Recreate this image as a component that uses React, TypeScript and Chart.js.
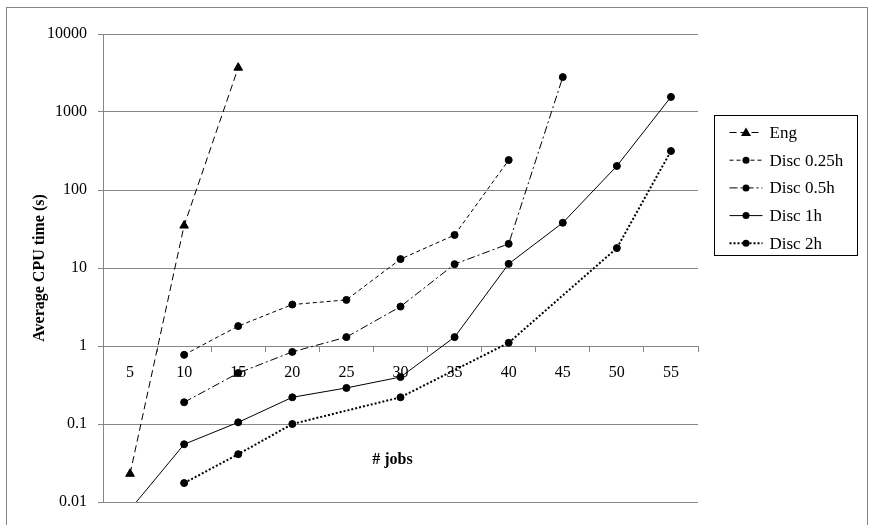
import React, { useEffect, useRef } from "react";
import { Chart, registerables } from "chart.js";

Chart.register(...registerables);

const categories = ["5", "10", "15", "20", "25", "30", "35", "40", "45", "50", "55"];
const yTickValues = [0.01, 0.1, 1, 10, 100, 1000, 10000];

const engValues = [0.023, 35, 3700, null, null, null, null, null, null, null, null];
const disc025Values = [null, 0.77, 1.8, 3.4, 3.9, 13, 26.5, 242, null, null, null];
const disc05Values = [null, 0.19, 0.45, 0.84, 1.3, 3.2, 11.2, 20.4, 2800, null, null];
const disc1Values = [0.008, 0.055, 0.105, 0.22, 0.29, 0.4, 1.3, 11.3, 38, 203, 1560];
const disc2Values = [null, 0.0175, 0.041, 0.1, null, 0.22, null, 1.1, null, 18, 316];

const seriesLabels = ["Eng", "Disc 0.25h", "Disc 0.5h", "Disc 1h", "Disc 2h"];

const SERIF = "'Liberation Serif', 'Times New Roman', serif";
const GRID = "#868686";

const framePlugin = {
  id: "frame",
  beforeDraw(chart: any) {
    const { ctx } = chart;
    ctx.save();
    ctx.fillStyle = "#ffffff";
    ctx.fillRect(0, 0, chart.width, chart.height);
    ctx.strokeStyle = GRID;
    ctx.lineWidth = 1;
    ctx.strokeRect(6.5, 7.5, chart.width - 9, chart.height + 10);
    ctx.restore();
  },
};

const xTitlePlugin = {
  id: "xTitle",
  afterDraw(chart: any) {
    const { ctx, chartArea } = chart;
    ctx.save();
    ctx.font = `bold 16px ${SERIF}`;
    ctx.fillStyle = "#000";
    ctx.textAlign = "center";
    ctx.textBaseline = "middle";
    ctx.fillText("# jobs", (chartArea.left + chartArea.right) / 2 - 8, chartArea.bottom - 42);
    ctx.restore();
  },
};

const legendPlugin = {
  id: "boxLegend",
  afterDraw(chart: any) {
    const { ctx, chartArea } = chart;
    const left = chartArea.right + 16.5;
    const top = 115.5;
    const w = 143;
    const h = 140;
    const rowH = 27.7;
    ctx.save();
    ctx.strokeStyle = "#000";
    ctx.lineWidth = 1;
    ctx.strokeRect(left, top, w, h);
    chart.data.datasets.forEach((ds: any, i: number) => {
      const y = top + 17 + i * rowH;
      const x0 = left + 15;
      const x1 = left + 48;
      ctx.save();
      ctx.strokeStyle = ds.borderColor;
      ctx.lineWidth = ds.borderWidth;
      ctx.setLineDash(ds.borderDash || []);
      ctx.beginPath();
      ctx.moveTo(x0, y);
      ctx.lineTo(x1, y);
      ctx.stroke();
      ctx.restore();
      ctx.fillStyle = "#000";
      const mx = (x0 + x1) / 2;
      if (ds.pointStyle === "triangle") {
        const r = 5;
        ctx.beginPath();
        ctx.moveTo(mx, y - r);
        ctx.lineTo(mx + r, y + r * 0.7);
        ctx.lineTo(mx - r, y + r * 0.7);
        ctx.closePath();
        ctx.fill();
      } else {
        ctx.beginPath();
        ctx.arc(mx, y, 3.5, 0, Math.PI * 2);
        ctx.fill();
      }
      ctx.font = `17px ${SERIF}`;
      ctx.textAlign = "left";
      ctx.textBaseline = "middle";
      ctx.fillText(ds.label, left + 55, y + 1);
    });
    ctx.restore();
  },
};

function makeDataset(label: string, data: (number | null)[], dash: number[], width: number, pointStyle: string, radius: number) {
  return {
    label,
    data,
    borderColor: "#000",
    backgroundColor: "#000",
    pointBackgroundColor: "#000",
    pointBorderColor: "#000",
    pointBorderWidth: 1,
    borderWidth: width,
    borderDash: dash,
    pointStyle,
    pointRadius: radius,
    pointHoverRadius: radius,
    spanGaps: true,
    tension: 0,
    fill: false,
  };
}

export default function App() {
  const canvasRef = useRef<HTMLCanvasElement | null>(null);

  useEffect(() => {
    if (!canvasRef.current) return;
    const chart = new Chart(canvasRef.current, {
      type: "line",
      data: {
        labels: categories,
        datasets: [
          makeDataset(seriesLabels[0], engValues, [7, 4], 1, "triangle", 5),
          makeDataset(seriesLabels[1], disc025Values, [4, 3], 1, "circle", 3.5),
          makeDataset(seriesLabels[2], disc05Values, [8, 3, 2, 3], 1, "circle", 3.5),
          makeDataset(seriesLabels[3], disc1Values, [], 1, "circle", 3.5),
          makeDataset(seriesLabels[4], disc2Values, [2, 2], 2, "circle", 3.5),
        ] as any,
      },
      plugins: [framePlugin, xTitlePlugin, legendPlugin],
      options: {
        animation: false,
        responsive: true,
        maintainAspectRatio: false,
        layout: { padding: { left: 8, top: 34, right: 172, bottom: 23 } },
        plugins: {
          legend: { display: false },
          tooltip: { enabled: false },
          title: { display: false },
        },
        scales: {
          x: {
            type: "category",
            offset: true,
            position: { y: 1 } as any,
            grid: {
              display: true,
              drawOnChartArea: false,
              drawTicks: true,
              tickLength: 5,
              offset: true,
              color: GRID,
            },
            border: { display: true, color: GRID },
            ticks: {
              color: "#000",
              font: { family: SERIF, size: 16 },
              padding: 12,
              maxRotation: 0,
              autoSkip: false,
            },
            title: { display: false },
          },
          y: {
            type: "logarithmic",
            min: 0.01,
            max: 10000,
            afterBuildTicks(scale: any) {
              scale.ticks = yTickValues.map((v) => ({ value: v }));
            },
            afterFit(scale: any) {
              scale.width = 95;
            },
            grid: { color: GRID, tickLength: 5, drawTicks: true },
            border: { display: true, color: GRID },
            ticks: {
              color: "#000",
              font: { family: SERIF, size: 16 },
              padding: 11,
              callback: (v: any) => String(v),
            },
            title: {
              display: true,
              text: "Average CPU time (s)",
              color: "#000",
              font: { family: SERIF, size: 16, weight: "bold" },
              padding: { top: 22, bottom: 0 },
            },
          },
        },
      } as any,
    });
    return () => chart.destroy();
  }, []);

  return (
    <div style={{ position: "fixed", left: 0, top: 0, width: 870, height: 525, background: "#fff" }}>
      <canvas ref={canvasRef} />
    </div>
  );
}
